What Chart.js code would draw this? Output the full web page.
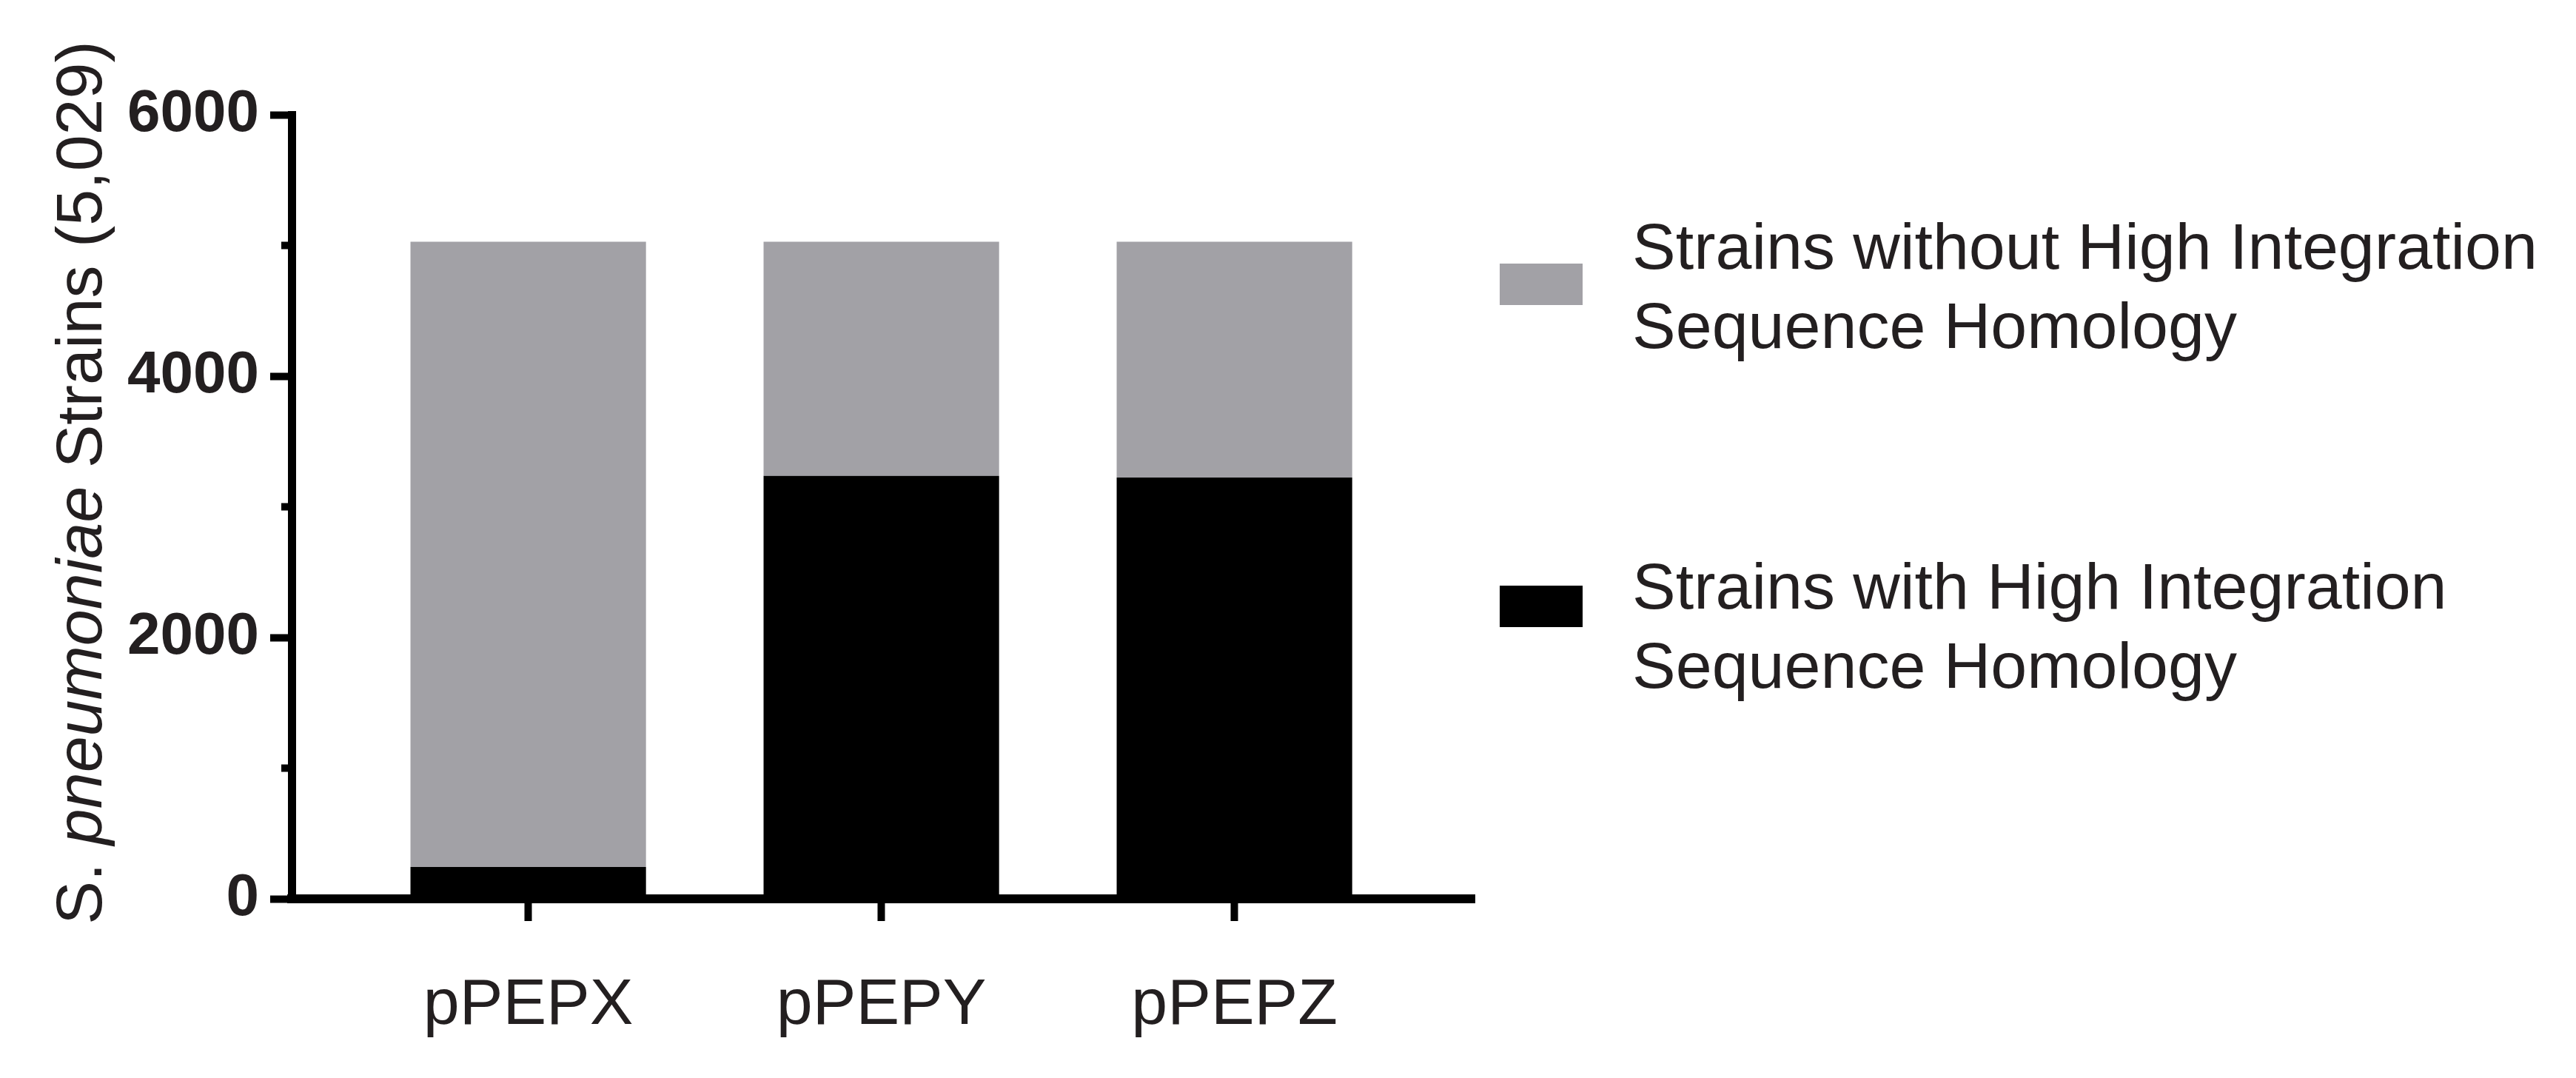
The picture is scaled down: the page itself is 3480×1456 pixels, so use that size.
<!DOCTYPE html>
<html>
<head>
<meta charset="utf-8">
<script src="https://cdn.jsdelivr.net/npm/chart.js@4.4.1/dist/chart.umd.min.js"></script>
<style>
html, body { margin: 0; padding: 0; background: #ffffff; }
#wrap { position: relative; width: 3480px; height: 1456px; overflow: hidden; }
#c { position: absolute; left: 0; top: 0; }
.lg-box { position: absolute; width: 112px; height: 56px; }
.lg-text { position: absolute; font-family: "Liberation Sans", Arial, sans-serif; font-size: 88px; line-height: 107px; color: #231f20; white-space: nowrap; }
</style>
</head>
<body>
<div id="wrap">
  <canvas id="c" width="3480" height="1456"></canvas>
  <div id="legend"></div>
</div>
<script>
// ---- data ----
const categories = ['pPEPX', 'pPEPY', 'pPEPZ'];
const withHomology = [243, 3237, 3224];
const withoutHomology = [4786, 1792, 1805];
const yLabelledTicks = [0, 2000, 4000, 6000];
const seriesWithName = ['Strains with High Integration', 'Sequence Homology'];
const seriesWithoutName = ['Strains without High Integration', 'Sequence Homology'];
const yTitleParts = [['S. ', 'normal'], ['pneumoniae', 'italic'], [' Strains (5,029)', 'normal']];

const GREY = '#a2a1a6';
const BLACK = '#000000';
const TEXT = '#231f20';
const FONT = '"Liberation Sans", Arial, sans-serif';

// ---- legend (HTML text) ----
const legendItems = [
  { lines: seriesWithoutName, color: GREY, boxTop: 356, textTop: 279 },
  { lines: seriesWithName, color: BLACK, boxTop: 791, textTop: 738 }
];
const legendEl = document.getElementById('legend');
legendItems.forEach(it => {
  const b = document.createElement('div');
  b.className = 'lg-box';
  b.style.left = '2026px';
  b.style.top = it.boxTop + 'px';
  b.style.background = it.color;
  legendEl.appendChild(b);
  const t = document.createElement('div');
  t.className = 'lg-text';
  t.style.left = '2205px';
  t.style.top = it.textTop + 'px';
  t.innerHTML = it.lines.join('<br>');
  legendEl.appendChild(t);
});

// ---- y axis title with italic species name ----
const yTitlePlugin = {
  id: 'yTitle',
  afterDraw(chart) {
    const ctx = chart.ctx;
    const size = 88;
    ctx.save();
    ctx.fillStyle = TEXT;
    ctx.textBaseline = 'alphabetic';
    ctx.textAlign = 'left';
    let total = 0;
    const widths = yTitleParts.map(([txt, style]) => {
      ctx.font = `${style} ${size}px ${FONT}`;
      const w = ctx.measureText(txt).width;
      total += w;
      return w;
    });
    ctx.translate(137, 652);
    ctx.rotate(-Math.PI / 2);
    let x = -total / 2;
    yTitleParts.forEach(([txt, style], i) => {
      ctx.font = `${style} ${size}px ${FONT}`;
      ctx.fillText(txt, x, 0);
      x += widths[i];
    });
    ctx.restore();
  }
};

const isMinor = (ctx) => ctx.tick && !yLabelledTicks.includes(ctx.tick.value);

new Chart(document.getElementById('c'), {
  type: 'bar',
  data: {
    datasets: [
      {
        label: seriesWithName.join(' '),
        data: withHomology.map((v, i) => ({ x: i, y: v })),
        backgroundColor: BLACK,
        borderWidth: 0,
        stack: 's'
      },
      {
        label: seriesWithoutName.join(' '),
        data: withoutHomology.map((v, i) => ({ x: i, y: v })),
        backgroundColor: GREY,
        borderWidth: 0,
        stack: 's'
      }
    ]
  },
  options: {
    responsive: false,
    animation: false,
    devicePixelRatio: 1,
    layout: { padding: { left: 0, top: 155, right: 1488, bottom: 0 } },
    datasets: { bar: { barPercentage: 0.667, categoryPercentage: 1 } },
    plugins: {
      legend: { display: false },
      tooltip: { enabled: false },
      title: { display: false }
    },
    scales: {
      x: {
        type: 'linear',
        offset: false,
        min: -0.67,
        max: 2.68,
        afterBuildTicks: (s) => { s.ticks = categories.map((_, i) => ({ value: i })); },
        afterFit: (s) => { s.height = 242; },
        ticks: {
          callback: (v) => categories[v] ?? '',
          autoSkip: false,
          maxRotation: 0,
          padding: 62,
          color: TEXT,
          font: { family: FONT, size: 88 }
        },
        grid: { offset: false, drawOnChartArea: false, drawTicks: true, tickLength: 30, tickWidth: 10, tickColor: BLACK },
        border: { display: true, color: BLACK, width: 12 }
      },
      y: {
        type: 'linear',
        stacked: true,
        min: 0,
        max: 6000,
        afterFit: (s) => { s.width = 394; },
        ticks: {
          stepSize: 1000,
          callback: (v) => yLabelledTicks.includes(v) ? String(v) : '',
          padding: 15,
          color: TEXT,
          font: { family: FONT, size: 80, weight: 'bold' }
        },
        grid: {
          drawOnChartArea: false,
          drawTicks: true,
          tickLength: 29,
          tickWidth: 10,
          tickColor: BLACK,
          tickBorderDash: (ctx) => isMinor(ctx) ? [15, 15] : [],
          tickBorderDashOffset: (ctx) => isMinor(ctx) ? 15 : 0
        },
        border: { display: true, color: BLACK, width: 11 }
      }
    }
  },
  plugins: [yTitlePlugin]
});
</script>
</body>
</html>
